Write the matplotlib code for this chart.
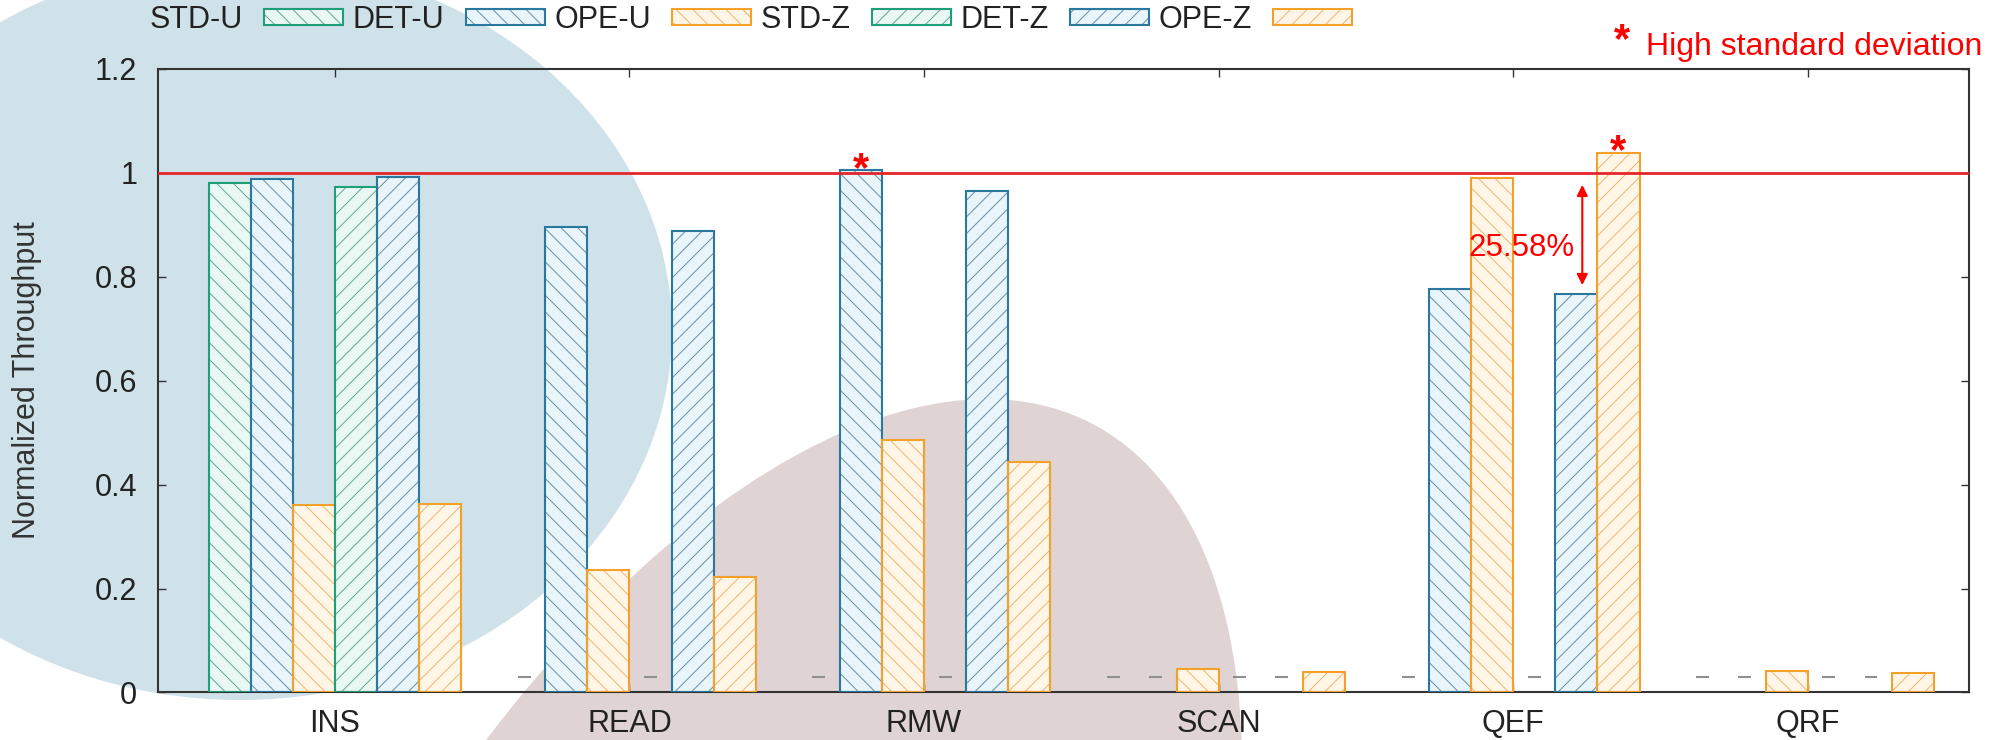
import numpy as np
import matplotlib
matplotlib.use('Agg')
import matplotlib.pyplot as plt
from matplotlib.patches import Ellipse

plt.rcParams['font.family'] = ['Liberation Sans', 'DejaVu Sans']
plt.rcParams['hatch.linewidth'] = 0.7

# data (nan = not run, drawn as a small dash)
nan = np.nan
categories = ['INS', 'READ', 'RMW', 'SCAN', 'QEF', 'QRF']
series_names = ['STD-U', 'DET-U', 'OPE-U', 'STD-Z', 'DET-Z', 'OPE-Z']
std_u = [0.980, nan, nan, nan, nan, nan]
det_u = [0.988, 0.895, 1.005, nan, 0.777, nan]
ope_u = [0.360, 0.235, 0.486, 0.045, 0.990, 0.041]
std_z = [0.973, nan, nan, nan, nan, nan]
det_z = [0.9925, 0.889, 0.965, nan, 0.766, nan]
ope_z = [0.3635, 0.222, 0.444, 0.039, 1.039, 0.037]
values = [std_u, det_u, ope_u, std_z, det_z, ope_z]

high_std = [('RMW', 'DET-U'), ('QEF', 'OPE-Z')]
gap_label = '25.58%'
yticks = [0, 0.2, 0.4, 0.6, 0.8, 1.0, 1.2]
ytick_labels = ['0', '0.2', '0.4', '0.6', '0.8', '1', '1.2']

edge_cols = ['#1f9e7a', '#2a78a0', '#f4a12c'] * 2
face_cols = ['#eaf8f3', '#e8f5fa', '#fff6e8'] * 2
hatch_cols = ['#67a596', '#6a8ea5', '#eeb46c'] * 2
hatches = ['\\\\'] * 3 + ['//'] * 3

fig = plt.figure(figsize=(19.98, 7.4), dpi=100)

# background blobs
fig.add_artist(Ellipse((2.40, 4.10), 8.64, 7.40, transform=fig.dpi_scale_trans,
                       facecolor='#cfe2e9', edgecolor='none', zorder=-2))
fig.add_artist(Ellipse((7.09, -4.29), 16.76, 8.36, angle=62.9, transform=fig.dpi_scale_trans,
                       facecolor='#e0d3d3', edgecolor='none', zorder=-2))

ax = fig.add_axes([0.0791, 0.0642, 0.9064, 0.8426])
ax.set_facecolor('none')

w = 1 / 7
x = np.arange(len(categories))
handles = []
for i, vals in enumerate(values):
    xs = x + (i - 2.5) * w
    v = np.array(vals, dtype=float)
    b1 = ax.bar(xs, v, w, color=face_cols[i], edgecolor=hatch_cols[i],
                hatch=hatches[i], linewidth=0, zorder=2)
    b2 = ax.bar(xs, v, w, fill=False, edgecolor=edge_cols[i], linewidth=1.5, zorder=3)
    handles.append((b1[0], b2[0]))
    miss = np.isnan(v)
    if miss.any():
        ax.hlines(np.full(miss.sum(), 0.03), xs[miss] - 0.022, xs[miss] + 0.022,
                  colors='#8f8f8f', lw=1.5, zorder=3)

ax.axhline(1.0, color='#e3262b', lw=2, zorder=4)

for cat, name in high_std:
    i = series_names.index(name)
    c = categories.index(cat)
    ax.text(c + (i - 2.5) * w, values[i][c] - 0.02, '*', ha='center', va='baseline',
            color='red', fontsize=30, fontweight='bold', zorder=5)

c = categories.index('QEF')
xa = c + (4 - 2.5) * w + 0.02
y0 = det_z[c] + 0.018
y1 = 1.0 - 0.023
ax.annotate('', xy=(xa, y1), xytext=(xa, y0),
            arrowprops=dict(arrowstyle='<|-|>', color='red', lw=1.5,
                            mutation_scale=16, shrinkA=0, shrinkB=0), zorder=5)
ax.text(xa - 0.025, 0.84, gap_label, ha='right', va='baseline', color='red',
        fontsize=22.5, zorder=5)

ax.set_xlim(-0.6, 5.547)
ax.set_ylim(0, 1.2)
ax.set_xticks(x)
ax.set_xticklabels(categories)
ax.set_yticks(yticks)
ax.set_yticklabels(ytick_labels)
ax.tick_params(direction='in', length=5.8, width=1, color='#333333', top=True, right=True,
               labelsize=22, labelcolor='#222222')
ax.tick_params(axis='x', pad=12)
ax.tick_params(axis='y', pad=15)
for s in ax.spines.values():
    s.set_linewidth(1.5)
    s.set_color('#333333')

fig.text(27 / 1998, 0.486, 'Normalized Throughput', rotation=90, ha='center', va='center',
         fontsize=22, color='#333333')

fig.legend(handles, series_names, loc='center left', bbox_to_anchor=(0.0751, 0.973),
           ncol=6, frameon=False, markerfirst=False, handlelength=2.58, handleheight=0.41,
           handletextpad=0.69, columnspacing=0.32, borderaxespad=0, borderpad=0,
           fontsize=22, labelcolor='#222222')

fig.text(1622 / 1998, 1 - 52 / 740, '*', ha='center', va='baseline', color='red',
         fontsize=30, fontweight='bold')
fig.text(1646 / 1998, 1 - 55 / 740, 'High standard deviation', ha='left', va='baseline',
         color='red', fontsize=23)

fig.savefig('out.png', dpi=100)
